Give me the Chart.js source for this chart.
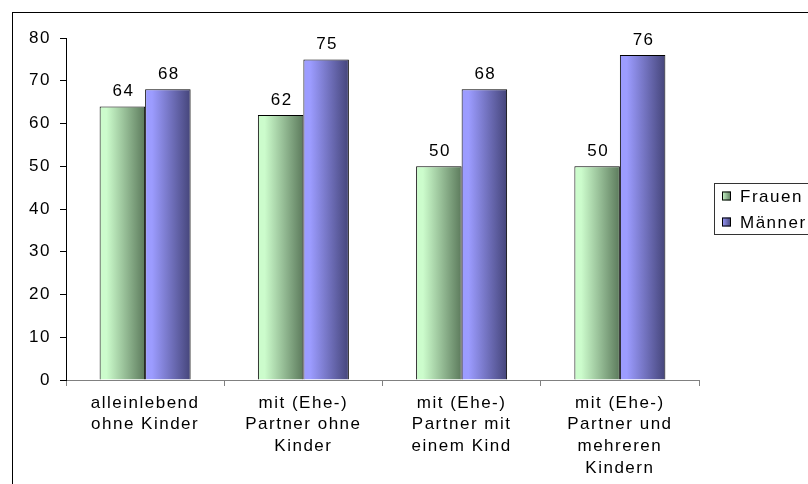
<!DOCTYPE html>
<html>
<head>
<meta charset="utf-8">
<script src="https://cdn.jsdelivr.net/npm/chart.js@4/dist/chart.umd.min.js"></script>
<style>
  html, body { margin: 0; padding: 0; background: #fff; overflow: hidden; }
  #wrap { width: 808px; height: 484px; position: relative; }
</style>
</head>
<body>
<div id="wrap"><canvas id="chart" width="808" height="484"></canvas></div>
<script>
// categories and values
const categories = [
    ['alleinlebend', 'ohne Kinder'],
    ['mit (Ehe-)', 'Partner ohne', 'Kinder'],
    ['mit (Ehe-)', 'Partner mit', 'einem Kind'],
    ['mit (Ehe-)', 'Partner und', 'mehreren', 'Kindern']
];
const seriesNames = ['Frauen', 'Männer'];
const frauen = [64, 62, 50, 50];
const maenner = [68, 75, 68, 76];
const yTicks = [0, 10, 20, 30, 40, 50, 60, 70, 80];

const GROUP_PCT = 0.575;
const shades = [
    { light: '#ccfccc', dark: '#5c7a5c' },
    { light: '#9c9cff', dark: '#45457a' }
];

// horizontal gradient across one bar, like the old office charts
function barFill(ctx) {
    const chart = ctx.chart;
    const s = shades[ctx.datasetIndex];
    const xs = chart.scales.x;
    if (!chart.chartArea || !xs || ctx.dataIndex === undefined) return s.light;
    const center = xs.getPixelForValue(ctx.dataIndex);
    const barW = (xs.width / categories.length) * GROUP_PCT / 2;
    const left = center - barW + ctx.datasetIndex * barW;
    const g = chart.ctx.createLinearGradient(left, 0, left + barW, 0);
    g.addColorStop(0, s.light);
    g.addColorStop(0.15, s.light);
    g.addColorStop(1, s.dark);
    return g;
}

function makeDataset(i, values) {
    return {
        label: seriesNames[i],
        data: values,
        backgroundColor: barFill,
        borderColor: '#000',
        borderWidth: 1,
        borderSkipped: 'bottom',
        categoryPercentage: GROUP_PCT,
        barPercentage: 1
    };
}

Chart.defaults.font.family = '"Liberation Sans", Arial, sans-serif';
Chart.defaults.font.size = 17;
Chart.defaults.color = '#000';

const spacing = {
    id: 'spacing',
    beforeDraw(chart) { chart.ctx.letterSpacing = '1.5px'; }
};

const frame = {
    id: 'frame',
    beforeDraw(chart) {
        const c = chart.ctx;
        c.save();
        c.strokeStyle = '#000';
        c.lineWidth = 1;
        c.strokeRect(12.5, 12.5, 900, 600);
        c.restore();
    }
};

const valueLabels = {
    id: 'valueLabels',
    afterDatasetsDraw(chart) {
        const c = chart.ctx;
        c.save();
        c.font = '17px "Liberation Sans", Arial, sans-serif';
        c.fillStyle = '#000';
        c.textAlign = 'center';
        c.textBaseline = 'alphabetic';
        chart.data.datasets.forEach((ds, i) => {
            chart.getDatasetMeta(i).data.forEach((bar, j) => {
                c.fillText(String(ds.data[j]), bar.x + 1, bar.y - 10);
            });
        });
        c.restore();
    }
};

const boxLegend = {
    id: 'boxLegend',
    afterDraw(chart) {
        const c = chart.ctx;
        c.save();
        c.strokeStyle = '#333';
        c.lineWidth = 1;
        c.strokeRect(714.5, 183.5, 200, 51);
        c.font = '17px "Liberation Sans", Arial, sans-serif';
        c.textBaseline = 'middle';
        c.textAlign = 'left';
        seriesNames.forEach((name, i) => {
            const y = 196 + i * 26;
            const g = c.createLinearGradient(722, 0, 731, 0);
            g.addColorStop(0, shades[i].light);
            g.addColorStop(1, shades[i].dark);
            c.fillStyle = g;
            c.fillRect(722, y - 4.5, 9, 9);
            c.strokeStyle = '#000';
            c.strokeRect(722.5, y - 4, 8, 8);
            c.fillStyle = '#000';
            c.fillText(name, 740, y + 1);
        });
        c.restore();
    }
};

new Chart(document.getElementById('chart'), {
    type: 'bar',
    data: {
        labels: categories,
        datasets: [makeDataset(0, frauen), makeDataset(1, maenner)]
    },
    options: {
        responsive: false,
        animation: false,
        events: [],
        layout: { padding: { top: 38, right: 109, bottom: 0, left: 0 } },
        plugins: {
            legend: { display: false },
            tooltip: { enabled: false },
            colors: { enabled: false }
        },
        scales: {
            x: {
                offset: true,
                grid: { offset: true, drawOnChartArea: false, color: '#808080', tickLength: 6 },
                border: { color: '#808080' },
                ticks: { padding: 6, maxRotation: 0, autoSkip: false, font: { lineHeight: 1.28 } },
                afterFit(scale) { scale.height = 104; }
            },
            y: {
                min: 0,
                max: 80,
                afterBuildTicks(scale) { scale.ticks = yTicks.map(v => ({ value: v })); },
                grid: { drawOnChartArea: false, color: '#000', tickLength: 6 },
                border: { color: '#000' },
                ticks: { padding: 9 },
                afterFit(scale) { scale.width = 66; }
            }
        }
    },
    plugins: [spacing, frame, valueLabels, boxLegend]
});
</script>
</body>
</html>
